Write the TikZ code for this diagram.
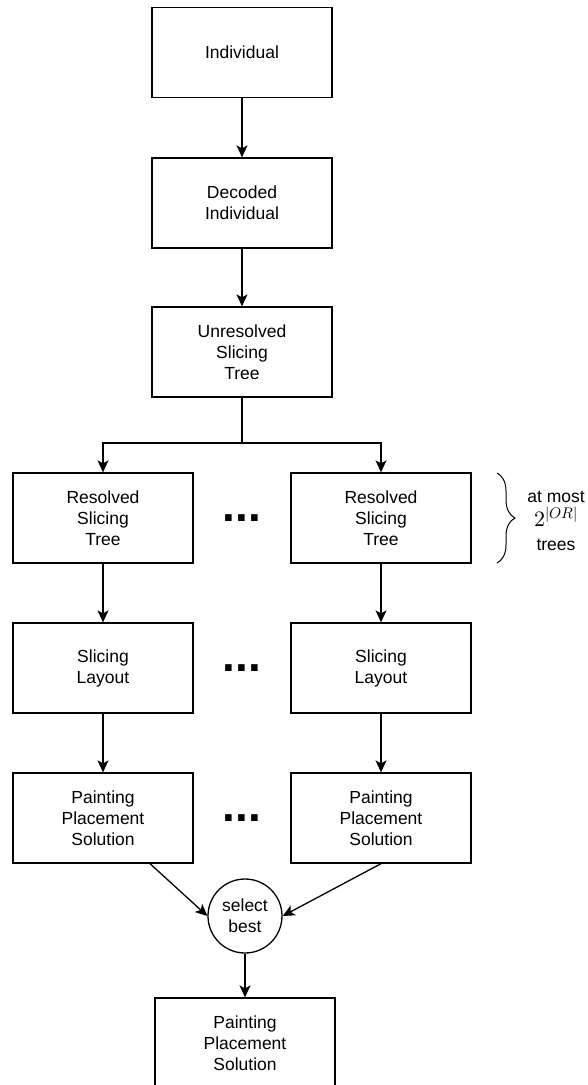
\documentclass[tikz,border=0pt]{standalone}
\usepackage{fontspec}
\usepackage{unicode-math}
\setmainfont{Liberation Sans}
\setmathfont{Latin Modern Math}
\usetikzlibrary{arrows.meta,decorations.pathreplacing}

\begin{document}
\begin{tikzpicture}[x=1pt,y=-1pt,>={Stealth[length=12pt,width=11pt,inset=3pt]},
    box/.style={draw,line width=1.3pt,minimum width=180pt,minimum height=90pt,
                align=center,inner sep=0pt,font=\fontsize{17.5}{21}\selectfont},
    selnode/.style={draw,circle,line width=1.3pt,minimum size=74pt,inner sep=0pt,
                align=center,font=\fontsize{17.5}{21}\selectfont},
    dotsnode/.style={anchor=base,inner sep=0pt,font=\fontsize{46}{46}\bfseries\selectfont},
    link/.style={->,line width=1.3pt}]
        % ---------------------------------------------------------
        % Rahmen: 587 x 1085
        % ---------------------------------------------------------
        \useasboundingbox (0,0) rectangle (587,1085);

        % Kette oben
        \node[box] (ind) at (242,52.5) {Individual};
        \node[box] (dec) at (242,203) {Decoded\\Individual};
        \node[box] (unres) at (242,352) {Unresolved\\Slicing\\Tree};

        % Verzweigung
        \coordinate (split) at (242,443);

        % linke Spalte
        \node[box] (lres) at (103,518) {Resolved\\Slicing\\Tree};
        \node[box] (llay) at (103,668) {Slicing\\Layout};
        \node[box] (lsol) at (103,818) {Painting\\Placement\\Solution};

        % rechte Spalte
        \node[box] (rres) at (381,518) {Resolved\\Slicing\\Tree};
        \node[box] (rlay) at (381,668) {Slicing\\Layout};
        \node[box] (rsol) at (381,818) {Painting\\Placement\\Solution};

        % Punkte dazwischen
        \node[dotsnode] (dots1) at (242,521) {...};
        \node[dotsnode] (dots2) at (242,671) {...};
        \node[dotsnode] (dots3) at (242,821) {...};

        % Auswahl + Ergebnis
        \node[selnode] (sel) at (245,916) {select\\best};
        \node[box] (best) at (245,1043) {Painting\\Placement\\Solution};

        % Pfeile
        \draw[link] (ind) -- (dec);
        \draw[link] (dec) -- (unres);
        \draw[line width=1.3pt] (unres.south) -- (split);
        \draw[link] (split) -| (lres.north);
        \draw[link] (split) -| (rres.north);

        \draw[link] (lres) -- (llay);
        \draw[link] (llay) -- (lsol);
        \draw[link] (rres) -- (rlay);
        \draw[link] (rlay) -- (rsol);

        \draw[link] ([xshift=47pt]lsol.south) -- (sel.west);
        \draw[link] (rsol.south) -- (sel.east);
        \draw[link] (sel) -- (best);

        % Klammer: Anzahl der Baeume
        \draw[decorate,decoration={brace,amplitude=18pt},line width=1pt]
        (497,473) -- (497,563);
        \node[align=center,font=\fontsize{17.5}{24}\selectfont] (note) at (556,521)
        {at most\\{\fontsize{22}{24}\selectfont$2^{|OR|}$}\\trees};

    \end{tikzpicture}
\end{document}
